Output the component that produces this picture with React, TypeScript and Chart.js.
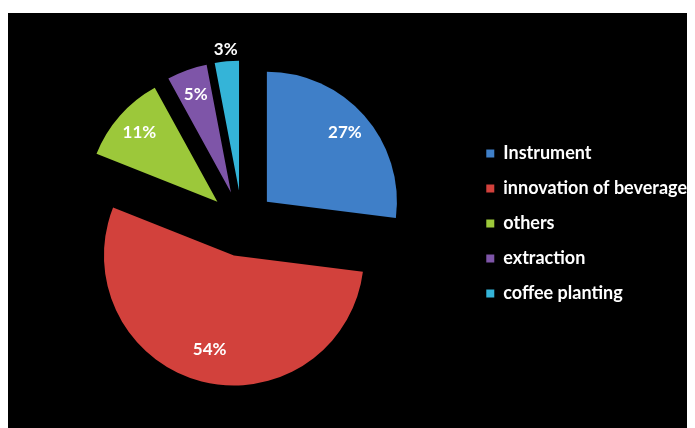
import React, { useEffect, useRef } from "react";
import { Chart, registerables } from "chart.js";

Chart.register(...registerables);

const categories = ["Instrument", "innovation of beverage", "others", "extraction", "coffee planting"];
const values = [27, 54, 11, 5, 3];
const percentLabels = ["27%", "54%", "11%", "5%", "3%"];
const colors = ["#3f7fc8", "#d2413c", "#9cc83a", "#7e55a8", "#34b4d8"];

const FONT = "Lato, 'Open Sans', sans-serif";
const EXPLODE = 33;

const explodePlugin = {
  id: "explode",
  beforeDatasetDraw(chart: any, args: any) {
    const ctx = chart.ctx;
    args.meta.data.forEach((arc: any) => {
      const mid = (arc.startAngle + arc.endAngle) / 2;
      ctx.save();
      ctx.translate(Math.cos(mid) * EXPLODE, Math.sin(mid) * EXPLODE);
      arc.draw(ctx, chart.chartArea);
      ctx.restore();
    });
    return false;
  },
};

const labelPlugin = {
  id: "sliceLabels",
  afterDatasetsDraw(chart: any) {
    const ctx = chart.ctx;
    const meta = chart.getDatasetMeta(0);
    ctx.save();
    ctx.fillStyle = "#ffffff";
    ctx.font = `bold 17px ${FONT}`;
    ctx.textAlign = "center";
    ctx.textBaseline = "middle";
    meta.data.forEach((arc: any, i: number) => {
      const mid = (arc.startAngle + arc.endAngle) / 2;
      const frac = values[i] < 4 ? 1.09 : values[i] > 50 ? 0.75 : 0.8;
      const r = arc.outerRadius * frac + EXPLODE;
      ctx.fillText(percentLabels[i], arc.x + Math.cos(mid) * r, arc.y + Math.sin(mid) * r);
    });
    ctx.restore();
  },
};

function PieChart() {
  const ref = useRef<HTMLCanvasElement | null>(null);
  useEffect(() => {
    if (!ref.current) return;
    const chart = new Chart(ref.current, {
      type: "pie",
      data: {
        labels: categories,
        datasets: [
          {
            data: values,
            backgroundColor: colors,
            borderWidth: 0,
          },
        ],
      },
      options: {
        animation: false,
        responsive: false,
        radius: 130,
        layout: { padding: { left: 7, right: -2, top: 6, bottom: 0 } },
        plugins: {
          legend: {
            position: "right",
            labels: {
              color: "#ffffff",
              boxWidth: 8,
              boxHeight: 8,
              padding: 17,
              font: { family: FONT, size: 18, weight: "bold" },
            },
          },
          tooltip: { enabled: false },
        },
      },
      plugins: [explodePlugin, labelPlugin],
    });
    return () => chart.destroy();
  }, []);
  return (
    <canvas
      ref={ref}
      width={687}
      height={415}
      style={{ display: "block", background: "#000", marginTop: 5 }}
    />
  );
}

export default function App() {
  return <PieChart />;
}
